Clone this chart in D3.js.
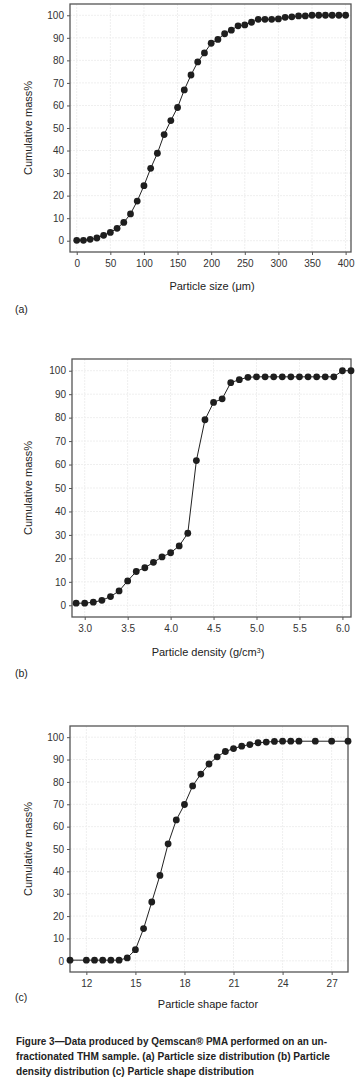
<!DOCTYPE html>
<html>
<head>
<meta charset="utf-8">
<script src="https://cdn.jsdelivr.net/npm/d3@7"></script>
<style>
  body { margin: 0; background: #fff; }
  svg { display: block; }
  text { font-family: "Liberation Sans", Arial, sans-serif; }
</style>
</head>
<body>
<div id="chart"></div>
<script>
var w = 363;
var h = 1085;

// (a) particle size
var sizeX = [0, 10, 20, 30, 40, 50, 60, 70, 80, 90, 100, 110, 120, 130, 140, 150, 160, 170, 180, 190, 200,
             210, 220, 230, 240, 250, 260, 270, 280, 290, 300, 310, 320, 330, 340, 350, 360, 370, 380, 390, 400];
var sizeY = [0.2, 0.2, 0.6, 1.2, 2.4, 3.7, 5.5, 8.1, 11.9, 17.6, 24.4, 32.1, 38.8, 47.1, 53.3, 59.1, 66.9, 73.5, 79.3, 83.3, 87.6,
             89.3, 91.8, 93.4, 95.3, 95.7, 96.9, 98.2, 98.2, 98.2, 98.4, 99.1, 99.3, 99.7, 99.7, 100, 100, 100, 100, 100, 100];
var sizeTicks = [0, 50, 100, 150, 200, 250, 300, 350, 400];

// (b) particle density
var densityX = [2.9, 3.0, 3.1, 3.2, 3.3, 3.4, 3.5, 3.6, 3.7, 3.8, 3.9, 4.0, 4.1, 4.2, 4.3, 4.4, 4.5, 4.6, 4.7, 4.8, 4.9,
                5.0, 5.1, 5.2, 5.3, 5.4, 5.5, 5.6, 5.7, 5.8, 5.9, 6.0, 6.1];
var densityY = [0.9, 0.9, 1.3, 2.1, 3.7, 6.1, 10.4, 14.4, 16.0, 18.3, 20.6, 22.4, 25.3, 30.7, 61.7, 79.1, 86.5, 88.0, 94.9, 96.2, 97.2,
                97.4, 97.4, 97.4, 97.4, 97.4, 97.4, 97.4, 97.4, 97.4, 97.4, 100, 100];
var densityTicks = [3.0, 3.5, 4.0, 4.5, 5.0, 5.5, 6.0];

// (c) particle shape factor
var shapeX = [11, 12, 12.5, 13, 13.5, 14, 14.5, 15, 15.5, 16, 16.5, 17, 17.5, 18, 18.5, 19, 19.5, 20, 20.5,
              21, 21.5, 22, 22.5, 23, 23.5, 24, 24.5, 25, 26, 27, 28];
var shapeY = [0.3, 0.3, 0.3, 0.3, 0.3, 0.3, 1.3, 5.0, 14.4, 26.3, 38.2, 52.3, 63.0, 69.9, 78.2, 83.5, 88.0, 91.2, 93.6,
              94.9, 96.0, 96.7, 97.5, 97.8, 98.1, 98.2, 98.2, 98.2, 98.2, 98.2, 98.2];
var shapeTicks = [12, 15, 18, 21, 24, 27];

var yTicks = [0, 10, 20, 30, 40, 50, 60, 70, 80, 90, 100];

var svg = d3.select("#chart")
            .append("svg")
            .attr("width", w)
            .attr("height", h);

function panel(opt) {
    var x = d3.scaleLinear().domain(opt.xDomain).range([opt.left, opt.right]);
    var y = d3.scaleLinear().domain([-5, 105]).range([opt.bottom, opt.top]);
    var g = svg.append("g");

    // faint grid
    g.selectAll("line.gx").data(opt.xTicks).enter().append("line")
        .attr("x1", function(d) { return x(d); }).attr("x2", function(d) { return x(d); })
        .attr("y1", opt.top).attr("y2", opt.bottom)
        .attr("stroke", "#efefef").attr("stroke-width", 1).attr("stroke-dasharray", "2,1");
    g.selectAll("line.gy").data(yTicks).enter().append("line")
        .attr("x1", opt.left).attr("x2", opt.right)
        .attr("y1", function(d) { return y(d); }).attr("y2", function(d) { return y(d); })
        .attr("stroke", "#efefef").attr("stroke-width", 1).attr("stroke-dasharray", "2,1");

    // frame
    g.append("rect")
        .attr("x", opt.left).attr("y", opt.top)
        .attr("width", opt.right - opt.left).attr("height", opt.bottom - opt.top)
        .attr("fill", "none").attr("stroke", "#555").attr("stroke-width", 1.3);

    var xAxis = g.append("g")
        .attr("transform", "translate(0," + opt.bottom + ")")
        .call(d3.axisBottom(x).tickValues(opt.xTicks).tickFormat(opt.fmt).tickSize(3).tickPadding(5));
    var yAxis = g.append("g")
        .attr("transform", "translate(" + opt.left + ",0)")
        .call(d3.axisLeft(y).tickValues(yTicks).tickSize(3).tickPadding(3));
    [xAxis, yAxis].forEach(function(a) {
        a.select(".domain").remove();
        a.selectAll(".tick line").attr("stroke", "#555");
        a.selectAll(".tick text").attr("fill", "#333").style("font-size", "10px")
            .style("font-family", "'Liberation Sans', Arial, sans-serif");
    });

    var pts = opt.xs.map(function(d, i) { return [d, opt.ys[i]]; });
    var line = d3.line()
        .x(function(d) { return x(d[0]); })
        .y(function(d) { return y(d[1]); });
    g.append("path").attr("d", line(pts))
        .attr("fill", "none").attr("stroke", "#222").attr("stroke-width", 1);
    g.selectAll("circle").data(pts).enter().append("circle")
        .attr("cx", function(d) { return x(d[0]); })
        .attr("cy", function(d) { return y(d[1]); })
        .attr("r", 3.4)
        .attr("fill", "#1e1e1e");

    g.append("text")
        .attr("transform", "translate(" + opt.yTitleX + "," + (opt.top + opt.bottom) / 2 + ") rotate(-90)")
        .attr("text-anchor", "middle").attr("dy", "0.35em")
        .style("font-size", "11px").attr("fill", "#222")
        .text("Cumulative mass%");

    var xt = g.append("text")
        .attr("x", opt.xTitleX).attr("y", opt.xTitleY)
        .attr("text-anchor", "middle").attr("dy", "0.35em")
        .style("font-size", "11px").attr("fill", "#222");
    xt.text(opt.xTitle);
    if (opt.sup) {
        xt.append("tspan").attr("dy", "-0.35em").style("font-size", "7px").text(opt.sup);
        xt.append("tspan").attr("dy", "0.35em").text(")");
    }

    g.append("text")
        .attr("x", 15).attr("y", opt.tagY).attr("dy", "0.35em")
        .style("font-size", "10.5px").attr("fill", "#222")
        .text(opt.tag);
}

panel({ xs: sizeX, ys: sizeY, xTicks: sizeTicks, xDomain: [-10, 408], fmt: d3.format("d"),
        left: 70, right: 351, top: 4, bottom: 252,
        yTitleX: 28, xTitle: "Particle size (\u03bcm)", xTitleX: 212, xTitleY: 286,
        tag: "(a)", tagY: 309 });

panel({ xs: densityX, ys: densityY, xTicks: densityTicks, xDomain: [2.852, 6.1], fmt: d3.format(".1f"),
        left: 72, right: 351, top: 359, bottom: 617,
        yTitleX: 28, xTitle: "Particle density (g/cm", sup: "3", xTitleX: 208, xTitleY: 652,
        tag: "(b)", tagY: 673 });

panel({ xs: shapeX, ys: shapeY, xTicks: shapeTicks, xDomain: [11, 28], fmt: d3.format("d"),
        left: 70, right: 348, top: 726, bottom: 972,
        yTitleX: 28, xTitle: "Particle shape factor", xTitleX: 208, xTitleY: 1004,
        tag: "(c)", tagY: 997 });

// caption
var captionLines = [
    "Figure 3\u2014Data produced by Qemscan\u00ae PMA performed on an un-",
    "fractionated THM sample. (a) Particle size distribution (b) Particle",
    "density distribution (c) Particle shape distribution"
];
var lineWidths = [311, 314, 238];
svg.selectAll("text.caption").data(captionLines).enter().append("text")
    .attr("class", "caption")
    .attr("x", 16)
    .attr("y", function(d, i) { return 1045 + i * 15; })
    .style("font-size", "11px").style("font-weight", "bold").attr("fill", "#222")
    .attr("textLength", function(d, i) { return lineWidths[i]; })
    .attr("lengthAdjust", "spacingAndGlyphs")
    .text(function(d) { return d; });
</script>
</body>
</html>
